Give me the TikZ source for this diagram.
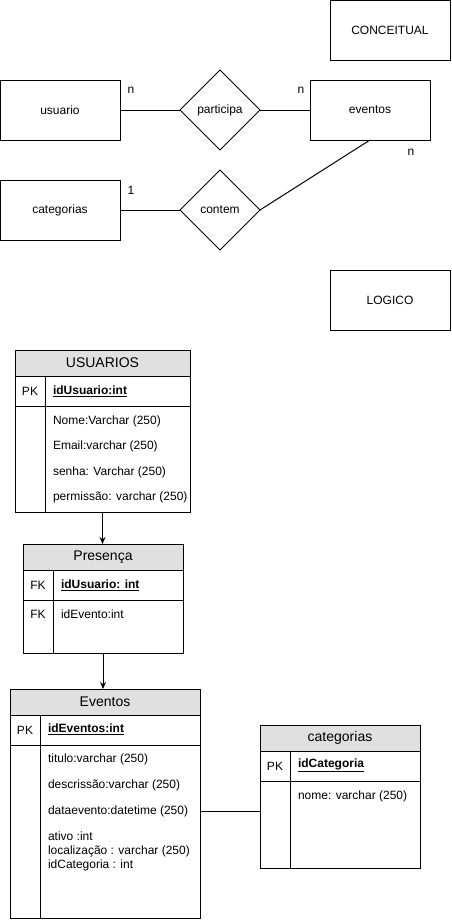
\documentclass[tikz,border=0pt]{standalone}
\usepackage{fontspec}
\setmainfont{Liberation Sans}
\usetikzlibrary{shapes.geometric,arrows.meta}
\definecolor{hdrgray}{HTML}{E0E0E0}
\begin{document}
\begin{tikzpicture}[x=1pt,y=-1pt,
  every node/.style={font=\fontsize{12}{14}\selectfont, inner sep=0pt, outer sep=0pt},
  ent/.style={draw, line width=1pt, minimum width=120pt, minimum height=60pt},
  rel/.style={draw, line width=1pt, diamond, minimum width=80pt, minimum height=80pt},
  link/.style={line width=1pt},
  thead/.style={draw, line width=1pt, fill=hdrgray, anchor=north west, minimum height=26pt,
    font=\fontsize{14}{16}\selectfont},
  tcell/.style={draw, line width=1pt, anchor=north west},
  fld/.style={anchor=west},
  fkarrow/.style={-{Stealth[length=7pt,width=6pt]}, line width=1pt},
]
\useasboundingbox (0,0) rectangle (451,922);

% ---------- conceptual model ----------
\node[ent] (conc) at (390,30) {CONCEITUAL};
\node[ent] (usuario) at (60,110) {usuario};
\node[rel] (participa) at (220,110) {participa};
\node[ent] (eventos) at (370,110) {eventos};
\node[ent] (categorias) at (60,210) {categorias};
\node[rel] (contem) at (220,210) {contem};

\draw[link] (usuario.east) -- (participa.west);
\draw[link] (participa.east) -- (eventos.west);
\draw[link] (categorias.east) -- (contem.west);
\draw[link] (contem.east) -- (eventos.south);

\node (c1) at (131,90) {n};
\node (c2) at (301,90) {n};
\node (c3) at (411,152) {n};
\node (c4) at (131,190) {1};

\node[ent] (logico) at (390,300) {LOGICO};

% ---------- logical model: USUARIOS ----------
\node[thead, minimum width=175pt] (uH) at (15,350) {USUARIOS};
\node[tcell, minimum width=175pt, minimum height=30pt] (uK) at (uH.south west) {};
\node[tcell, minimum width=175pt, minimum height=106pt] (uB) at (uK.south west) {};
\draw[link] ([xshift=30pt]uK.north west) -- ([xshift=30pt]uB.south west);
\node (uKt) at ([xshift=15pt]uK.west) {PK};
\node[fld] (u0) at (53,391) {\underline{\textbf{idUsuario:int}}};
\node[fld] (u1) at (53,421) {Nome:Varchar (250)};
\node[fld] (u2) at (53,446.5) {Email:varchar (250)};
\node[fld] (u3) at (53,472) {senha: Varchar (250)};
\node[fld] (u4) at (53,497.5) {permissão: varchar (250)};

% ---------- Presença ----------
\node[thead, minimum width=160pt] (pH) at (23,544) {Presença};
\node[tcell, minimum width=160pt, minimum height=30pt] (pK) at (pH.south west) {};
\node[tcell, minimum width=160pt, minimum height=53pt] (pB) at (pK.south west) {};
\draw[link] ([xshift=30pt]pK.north west) -- ([xshift=30pt]pB.south west);
\node (pKt) at ([xshift=15pt]pK.west) {FK};
\node[fld] (p0) at (61,585) {\underline{\textbf{idUsuario: int}}};
\node (pBt) at (38,614) {FK};
\node[fld] (p1) at (61,614) {idEvento:int};

% ---------- Eventos ----------
\node[thead, minimum width=190pt] (eH) at (10,689) {Eventos};
\node[tcell, minimum width=190pt, minimum height=30pt] (eK) at (eH.south west) {};
\node[tcell, minimum width=190pt, minimum height=173pt] (eB) at (eK.south west) {};
\draw[link] ([xshift=30pt]eK.north west) -- ([xshift=30pt]eB.south west);
\node (eKt) at ([xshift=15pt]eK.west) {PK};
\node[fld] (e0) at (48,729) {\underline{\textbf{idEventos:int}}};
\node[fld] (e1) at (48,759) {titulo:varchar (250)};
\node[fld] (e2) at (48,785) {descrissão:varchar (250)};
\node[fld] (e3) at (48,811) {dataevento:datetime (250)};
\node[fld, align=left] (e4) at (48,851.5) {ativo :int\\localização : varchar (250)\\idCategoria : int};

% ---------- categorias ----------
\node[thead, minimum width=160pt] (kH) at (260,725) {categorias};
\node[tcell, minimum width=160pt, minimum height=30pt] (kK) at (kH.south west) {};
\node[tcell, minimum width=160pt, minimum height=87pt] (kB) at (kK.south west) {};
\draw[link] ([xshift=30pt]kK.north west) -- ([xshift=30pt]kB.south west);
\node (kKt) at ([xshift=15pt]kK.west) {PK};
\node[fld] (k0) at (298,765) {\underline{\textbf{idCategoria}}};
\node[fld] (k1) at (298,796) {nome: varchar (250)};

% ---------- links between tables ----------
\draw[fkarrow] (uB.south) -- (uB.south |- pH.north);
\draw[fkarrow] (pB.south) -- (pB.south |- eH.north);
\draw[link] (e3 -| eB.east) -- (e3 -| kB.west);
\end{tikzpicture}
\end{document}
